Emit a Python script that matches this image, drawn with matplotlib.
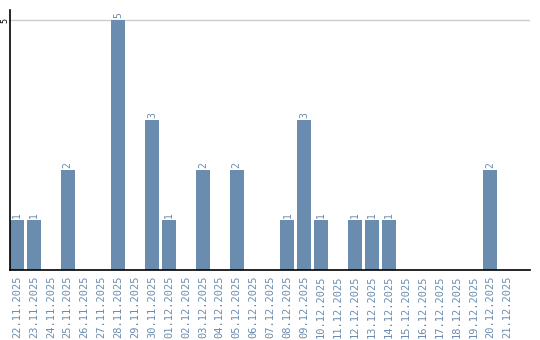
import numpy as np
import matplotlib.pyplot as plt

dates = ['22.11.2025', '23.11.2025', '24.11.2025', '25.11.2025', '26.11.2025',
         '27.11.2025', '28.11.2025', '29.11.2025', '30.11.2025', '01.12.2025',
         '02.12.2025', '03.12.2025', '04.12.2025', '05.12.2025', '06.12.2025',
         '07.12.2025', '08.12.2025', '09.12.2025', '10.12.2025', '11.12.2025',
         '12.12.2025', '13.12.2025', '14.12.2025', '15.12.2025', '16.12.2025',
         '17.12.2025', '18.12.2025', '19.12.2025', '20.12.2025', '21.12.2025']
counts = [1, 1, 0, 2, 0, 0, 5, 0, 3, 1,
          0, 2, 0, 2, 0, 0, 1, 3, 1, 0,
          1, 1, 1, 0, 0, 0, 0, 0, 2, 0]

barcol = '#6a8caf'
txtcol = '#6a8caf'

fig = plt.figure(figsize=(5.4, 3.4), dpi=100)
ax = fig.add_axes([10/540, 70/340, 520/540, 260/340])

x = np.arange(len(dates))
ax.bar(x, counts, width=14/17, color=barcol, zorder=2)

for i in range(len(counts)):
    if counts[i] > 0:
        ax.text(x[i], counts[i] + 0.04, str(counts[i]), rotation=90,
                ha='center', va='bottom', color=txtcol,
                family='DejaVu Sans Mono', fontsize=7)

ax.set_xlim(-7/17, 30 + 3/17 + 3/17)
ax.set_ylim(0, 5.2)
ax.set_yticks([5])
ax.set_yticklabels(['5'], rotation=90, va='center', family='DejaVu Sans Mono', fontsize=6)
ax.axhline(5, color='#cccccc', lw=1, zorder=1)
ax.set_xticks(x)
ax.set_xticklabels(dates, rotation=90, color=txtcol, family='DejaVu Sans Mono', fontsize=7.5)
ax.tick_params(axis='x', length=0, pad=4)
ax.tick_params(axis='y', length=0, pad=0.5)

ax.spines['top'].set_visible(False)
ax.spines['right'].set_visible(False)
ax.spines['left'].set_linewidth(1.2)
ax.spines['bottom'].set_linewidth(1.2)

fig.savefig('out.png', dpi=100)
